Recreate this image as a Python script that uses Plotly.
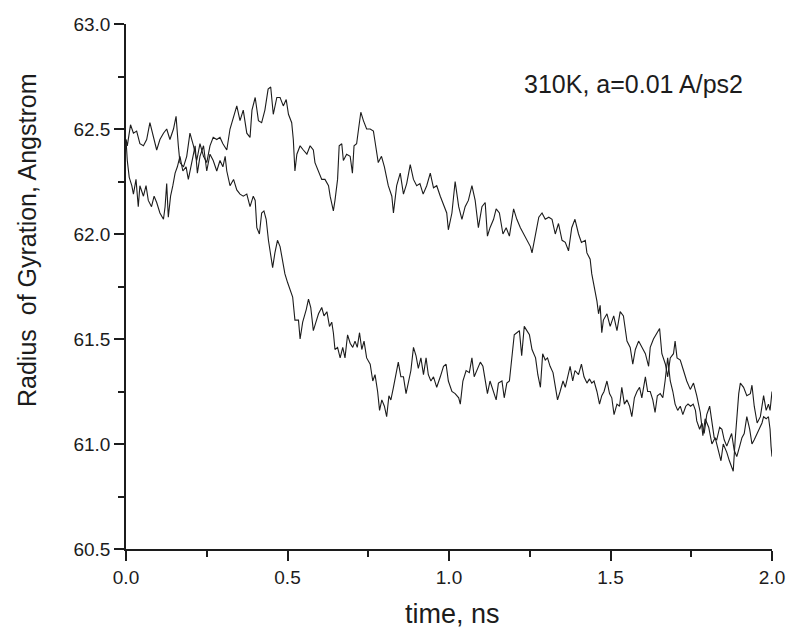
import plotly.graph_objects as go

# ---- data (time in ns, radius of gyration in Angstrom) ----
time_a = [0.000, 0.004, 0.014, 0.023, 0.033, 0.043, 0.054, 0.064, 0.074, 0.085, 0.095, 0.105, 0.116, 0.126,
          0.136, 0.147, 0.155, 0.162, 0.167, 0.178, 0.188, 0.198, 0.209, 0.219, 0.229, 0.240, 0.250, 0.260,
          0.270, 0.281, 0.291, 0.300, 0.312, 0.322, 0.333, 0.343, 0.353, 0.363, 0.374, 0.384, 0.390, 0.400,
          0.410, 0.420, 0.430, 0.440, 0.448, 0.456, 0.467, 0.477, 0.487, 0.496, 0.503, 0.513, 0.518, 0.523,
          0.529, 0.539, 0.549, 0.560, 0.570, 0.580, 0.585, 0.596, 0.606, 0.616, 0.627, 0.632, 0.642, 0.647,
          0.655, 0.660, 0.668, 0.673, 0.683, 0.694, 0.701, 0.706, 0.714, 0.720, 0.727, 0.735, 0.745, 0.756,
          0.766, 0.770, 0.781, 0.791, 0.800, 0.812, 0.823, 0.828, 0.838, 0.849, 0.859, 0.869, 0.880, 0.890,
          0.900, 0.910, 0.920, 0.931, 0.942, 0.952, 0.962, 0.973, 0.983, 0.993, 0.998, 1.009, 1.019, 1.030,
          1.040, 1.050, 1.060, 1.071, 1.081, 1.091, 1.102, 1.112, 1.119, 1.127, 1.138, 1.146, 1.156, 1.167,
          1.177, 1.187, 1.200, 1.210, 1.221, 1.231, 1.241, 1.252, 1.257, 1.268, 1.278, 1.288, 1.298, 1.309,
          1.319, 1.329, 1.339, 1.350, 1.360, 1.370, 1.380, 1.390, 1.401, 1.410, 1.422, 1.427, 1.437, 1.442,
          1.447, 1.453, 1.458, 1.463, 1.468, 1.473, 1.478, 1.489, 1.499, 1.510, 1.520, 1.530, 1.540, 1.551,
          1.561, 1.569, 1.577, 1.587, 1.597, 1.608, 1.618, 1.623, 1.633, 1.644, 1.652, 1.659, 1.670, 1.677,
          1.685, 1.695, 1.700, 1.706, 1.716, 1.726, 1.736, 1.747, 1.757, 1.767, 1.778, 1.786, 1.793, 1.804,
          1.814, 1.824, 1.835, 1.842, 1.849, 1.860, 1.868, 1.875, 1.880, 1.886, 1.891, 1.897, 1.902, 1.912,
          1.922, 1.933, 1.938, 1.945, 1.954, 1.964, 1.974, 1.982, 1.989, 1.994, 2.000]
rg_a = [62.45, 62.42, 62.52, 62.48, 62.49, 62.43, 62.42, 62.45, 62.53, 62.46, 62.40, 62.45, 62.48, 62.50,
        62.45, 62.50, 62.56, 62.42, 62.34, 62.32, 62.37, 62.48, 62.42, 62.35, 62.43, 62.37, 62.34, 62.42,
        62.46, 62.45, 62.46, 62.43, 62.40, 62.50, 62.56, 62.61, 62.54, 62.59, 62.48, 62.46, 62.59, 62.65,
        62.54, 62.53, 62.59, 62.69, 62.70, 62.57, 62.65, 62.65, 62.61, 62.64, 62.57, 62.53, 62.45, 62.30,
        62.38, 62.42, 62.40, 62.38, 62.42, 62.40, 62.34, 62.30, 62.26, 62.26, 62.23, 62.18, 62.11, 62.16,
        62.26, 62.42, 62.43, 62.35, 62.38, 62.37, 62.29, 62.42, 62.43, 62.50, 62.58, 62.54, 62.50, 62.50,
        62.49, 62.45, 62.34, 62.37, 62.32, 62.23, 62.18, 62.10, 62.23, 62.29, 62.19, 62.24, 62.33, 62.26,
        62.23, 62.24, 62.19, 62.23, 62.29, 62.22, 62.23, 62.18, 62.14, 62.10, 62.02, 62.10, 62.25, 62.13,
        62.07, 62.13, 62.16, 62.23, 62.16, 62.03, 62.13, 62.15, 61.99, 62.03, 62.07, 62.12, 62.10, 62.00,
        62.03, 61.99, 62.12, 62.07, 62.03, 62.00, 61.97, 61.94, 61.91, 61.99, 62.08, 62.10, 62.07, 62.08,
        62.07, 62.00, 62.05, 61.97, 61.96, 61.92, 62.03, 62.07, 62.00, 61.96, 61.97, 61.91, 61.88, 61.81,
        61.77, 61.73, 61.68, 61.62, 61.66, 61.53, 61.59, 61.62, 61.56, 61.61, 61.54, 61.63, 61.61, 61.49,
        61.46, 61.38, 61.45, 61.49, 61.46, 61.43, 61.37, 61.46, 61.50, 61.53, 61.55, 61.43, 61.38, 61.32,
        61.41, 61.43, 61.49, 61.41, 61.40, 61.35, 61.30, 61.26, 61.29, 61.23, 61.15, 61.04, 61.12, 61.08,
        61.00, 61.03, 60.96, 60.92, 61.00, 60.96, 60.92, 60.89, 60.87, 61.02, 61.12, 61.24, 61.29, 61.27,
        61.23, 61.24, 61.28, 61.18, 61.10, 61.13, 61.23, 61.16, 61.19, 61.16, 61.25]

time_b = [0.000, 0.004, 0.010, 0.018, 0.023, 0.031, 0.038, 0.043, 0.054, 0.062, 0.069, 0.079, 0.087, 0.095,
          0.105, 0.116, 0.121, 0.126, 0.131, 0.138, 0.145, 0.152, 0.159, 0.167, 0.176, 0.186, 0.193, 0.203,
          0.214, 0.221, 0.229, 0.240, 0.250, 0.260, 0.270, 0.281, 0.291, 0.300, 0.307, 0.312, 0.322, 0.333,
          0.343, 0.353, 0.363, 0.374, 0.384, 0.390, 0.394, 0.400, 0.405, 0.413, 0.420, 0.427, 0.434, 0.441,
          0.448, 0.454, 0.461, 0.469, 0.477, 0.485, 0.492, 0.500, 0.508, 0.516, 0.523, 0.534, 0.539, 0.547,
          0.558, 0.565, 0.572, 0.580, 0.588, 0.596, 0.606, 0.613, 0.622, 0.630, 0.637, 0.642, 0.647, 0.655,
          0.663, 0.671, 0.678, 0.686, 0.694, 0.702, 0.709, 0.716, 0.723, 0.730, 0.737, 0.745, 0.756, 0.764,
          0.771, 0.779, 0.785, 0.792, 0.800, 0.807, 0.814, 0.820, 0.828, 0.836, 0.843, 0.851, 0.859, 0.867,
          0.874, 0.882, 0.890, 0.898, 0.905, 0.913, 0.921, 0.929, 0.936, 0.944, 0.952, 0.962, 0.973, 0.983,
          0.991, 0.998, 1.009, 1.019, 1.030, 1.035, 1.043, 1.053, 1.063, 1.071, 1.078, 1.086, 1.097, 1.105,
          1.112, 1.119, 1.127, 1.138, 1.146, 1.153, 1.164, 1.171, 1.179, 1.187, 1.194, 1.202, 1.210, 1.218,
          1.225, 1.233, 1.241, 1.249, 1.257, 1.268, 1.275, 1.283, 1.290, 1.298, 1.305, 1.313, 1.322, 1.329,
          1.336, 1.344, 1.353, 1.360, 1.367, 1.375, 1.383, 1.390, 1.401, 1.410, 1.418, 1.427, 1.435, 1.442,
          1.449, 1.458, 1.466, 1.473, 1.480, 1.489, 1.497, 1.504, 1.511, 1.520, 1.528, 1.535, 1.543, 1.551,
          1.559, 1.566, 1.574, 1.582, 1.590, 1.597, 1.608, 1.615, 1.623, 1.631, 1.638, 1.645, 1.654, 1.662,
          1.669, 1.677, 1.685, 1.693, 1.700, 1.708, 1.716, 1.724, 1.733, 1.740, 1.748, 1.756, 1.763, 1.767,
          1.776, 1.783, 1.790, 1.798, 1.807, 1.814, 1.821, 1.829, 1.838, 1.845, 1.852, 1.860, 1.868, 1.875,
          1.883, 1.891, 1.900, 1.907, 1.914, 1.922, 1.931, 1.938, 1.945, 1.954, 1.962, 1.969, 1.974, 1.982,
          1.989, 1.994, 1.997, 2.000]
rg_b = [62.45, 62.35, 62.27, 62.23, 62.19, 62.26, 62.13, 62.23, 62.18, 62.23, 62.16, 62.13, 62.18, 62.15,
        62.10, 62.07, 62.13, 62.24, 62.08, 62.18, 62.23, 62.29, 62.32, 62.37, 62.30, 62.32, 62.26, 62.34,
        62.42, 62.29, 62.37, 62.42, 62.30, 62.38, 62.35, 62.30, 62.35, 62.32, 62.37, 62.30, 62.23, 62.26,
        62.21, 62.19, 62.18, 62.19, 62.13, 62.16, 62.18, 62.16, 62.03, 62.00, 62.10, 62.11, 62.07, 61.97,
        61.91, 61.84, 61.91, 61.97, 61.94, 61.86, 61.81, 61.77, 61.73, 61.70, 61.59, 61.59, 61.50, 61.58,
        61.64, 61.69, 61.65, 61.54, 61.58, 61.62, 61.65, 61.61, 61.63, 61.56, 61.58, 61.53, 61.45, 61.46,
        61.41, 61.46, 61.41, 61.52, 61.48, 61.46, 61.49, 61.46, 61.53, 61.45, 61.49, 61.41, 61.38, 61.30,
        61.33, 61.25, 61.16, 61.21, 61.18, 61.13, 61.23, 61.21, 61.27, 61.33, 61.39, 61.32, 61.32, 61.24,
        61.29, 61.35, 61.46, 61.42, 61.36, 61.41, 61.33, 61.41, 61.33, 61.30, 61.32, 61.27, 61.32, 61.37,
        61.38, 61.30, 61.25, 61.24, 61.22, 61.19, 61.30, 61.35, 61.34, 61.41, 61.32, 61.35, 61.39, 61.37,
        61.30, 61.24, 61.30, 61.25, 61.21, 61.29, 61.30, 61.22, 61.29, 61.30, 61.42, 61.52, 61.53, 61.54,
        61.42, 61.56, 61.54, 61.52, 61.45, 61.41, 61.33, 61.27, 61.43, 61.40, 61.41, 61.37, 61.34, 61.27,
        61.21, 61.25, 61.30, 61.27, 61.32, 61.37, 61.30, 61.35, 61.33, 61.38, 61.32, 61.29, 61.31, 61.29,
        61.30, 61.25, 61.19, 61.23, 61.25, 61.30, 61.24, 61.22, 61.14, 61.19, 61.18, 61.27, 61.19, 61.21,
        61.18, 61.13, 61.22, 61.25, 61.27, 61.22, 61.32, 61.25, 61.25, 61.21, 61.15, 61.23, 61.24, 61.22,
        61.30, 61.41, 61.30, 61.25, 61.19, 61.16, 61.18, 61.14, 61.18, 61.19, 61.18, 61.19, 61.16, 61.11,
        61.07, 61.10, 61.05, 61.14, 61.18, 61.10, 61.03, 61.02, 61.08, 61.07, 61.02, 60.99, 61.02, 61.05,
        60.97, 60.94, 60.99, 61.03, 61.05, 61.13, 61.07, 61.00, 61.02, 61.05, 61.07, 61.10, 61.13, 61.12,
        61.13, 61.07, 60.99, 60.94]

x_ticks = [0.0, 0.5, 1.0, 1.5, 2.0]
x_tick_labels = ["0.0", "0.5", "1.0", "1.5", "2.0"]
y_ticks = [60.5, 61.0, 61.5, 62.0, 62.5, 63.0]
y_tick_labels = ["60.5", "61.0", "61.5", "62.0", "62.5", "63.0"]

x_title = "time, ns"
y_title = "Radius\u00a0\u00a0of Gyration, Angstrom"
note = "310K, a=0.01 A/ps2"

INK = "#1c1c1c"
FONT = "Liberation Sans, Arial, sans-serif"

fig = go.Figure()
for t, r in ((time_a, rg_a), (time_b, rg_b)):
    fig.add_trace(go.Scatter(x=t, y=r, mode="lines",
                             line=dict(color=INK, width=1.1), showlegend=False, hoverinfo="skip"))

axis_common = dict(
    showgrid=False, zeroline=False, showline=True, linecolor=INK, linewidth=1.6,
    ticks="outside", ticklen=10, tickwidth=1.6, tickcolor=INK,
    tickfont=dict(family=FONT, size=19, color=INK),
)
fig.update_xaxes(range=[0, 2], tickvals=x_ticks, ticktext=x_tick_labels,
                 minor=dict(ticks="outside", ticklen=6, tickwidth=1.6, tickcolor=INK, dtick=0.25),
                 **axis_common)
fig.update_yaxes(range=[60.5, 63.0], tickvals=y_ticks, ticktext=y_tick_labels,
                 minor=dict(ticks="outside", ticklen=6, tickwidth=1.6, tickcolor=INK, dtick=0.25),
                 **axis_common)

fig.add_annotation(text=note, xref="paper", yref="paper", x=0.786, y=0.886,
                   xanchor="center", yanchor="middle", showarrow=False,
                   font=dict(family=FONT, size=25, color=INK))
fig.add_annotation(text=x_title, xref="paper", yref="paper", x=0.5047, y=-0.124,
                   xanchor="center", yanchor="middle", showarrow=False,
                   font=dict(family=FONT, size=27, color=INK))
fig.add_annotation(text=y_title, xref="paper", yref="paper", x=-0.153, y=0.587,
                   xanchor="center", yanchor="middle", showarrow=False, textangle=-90,
                   font=dict(family=FONT, size=25, color=INK))

fig.update_layout(
    width=800, height=643,
    margin=dict(l=126, r=28, t=24, b=94),
    paper_bgcolor="white", plot_bgcolor="white",
    font=dict(family=FONT, color=INK),
)

fig.write_html("out.html", config={"displayModeBar": False},
               post_script="document.body.style.margin='0';document.body.style.overflow='hidden';")
